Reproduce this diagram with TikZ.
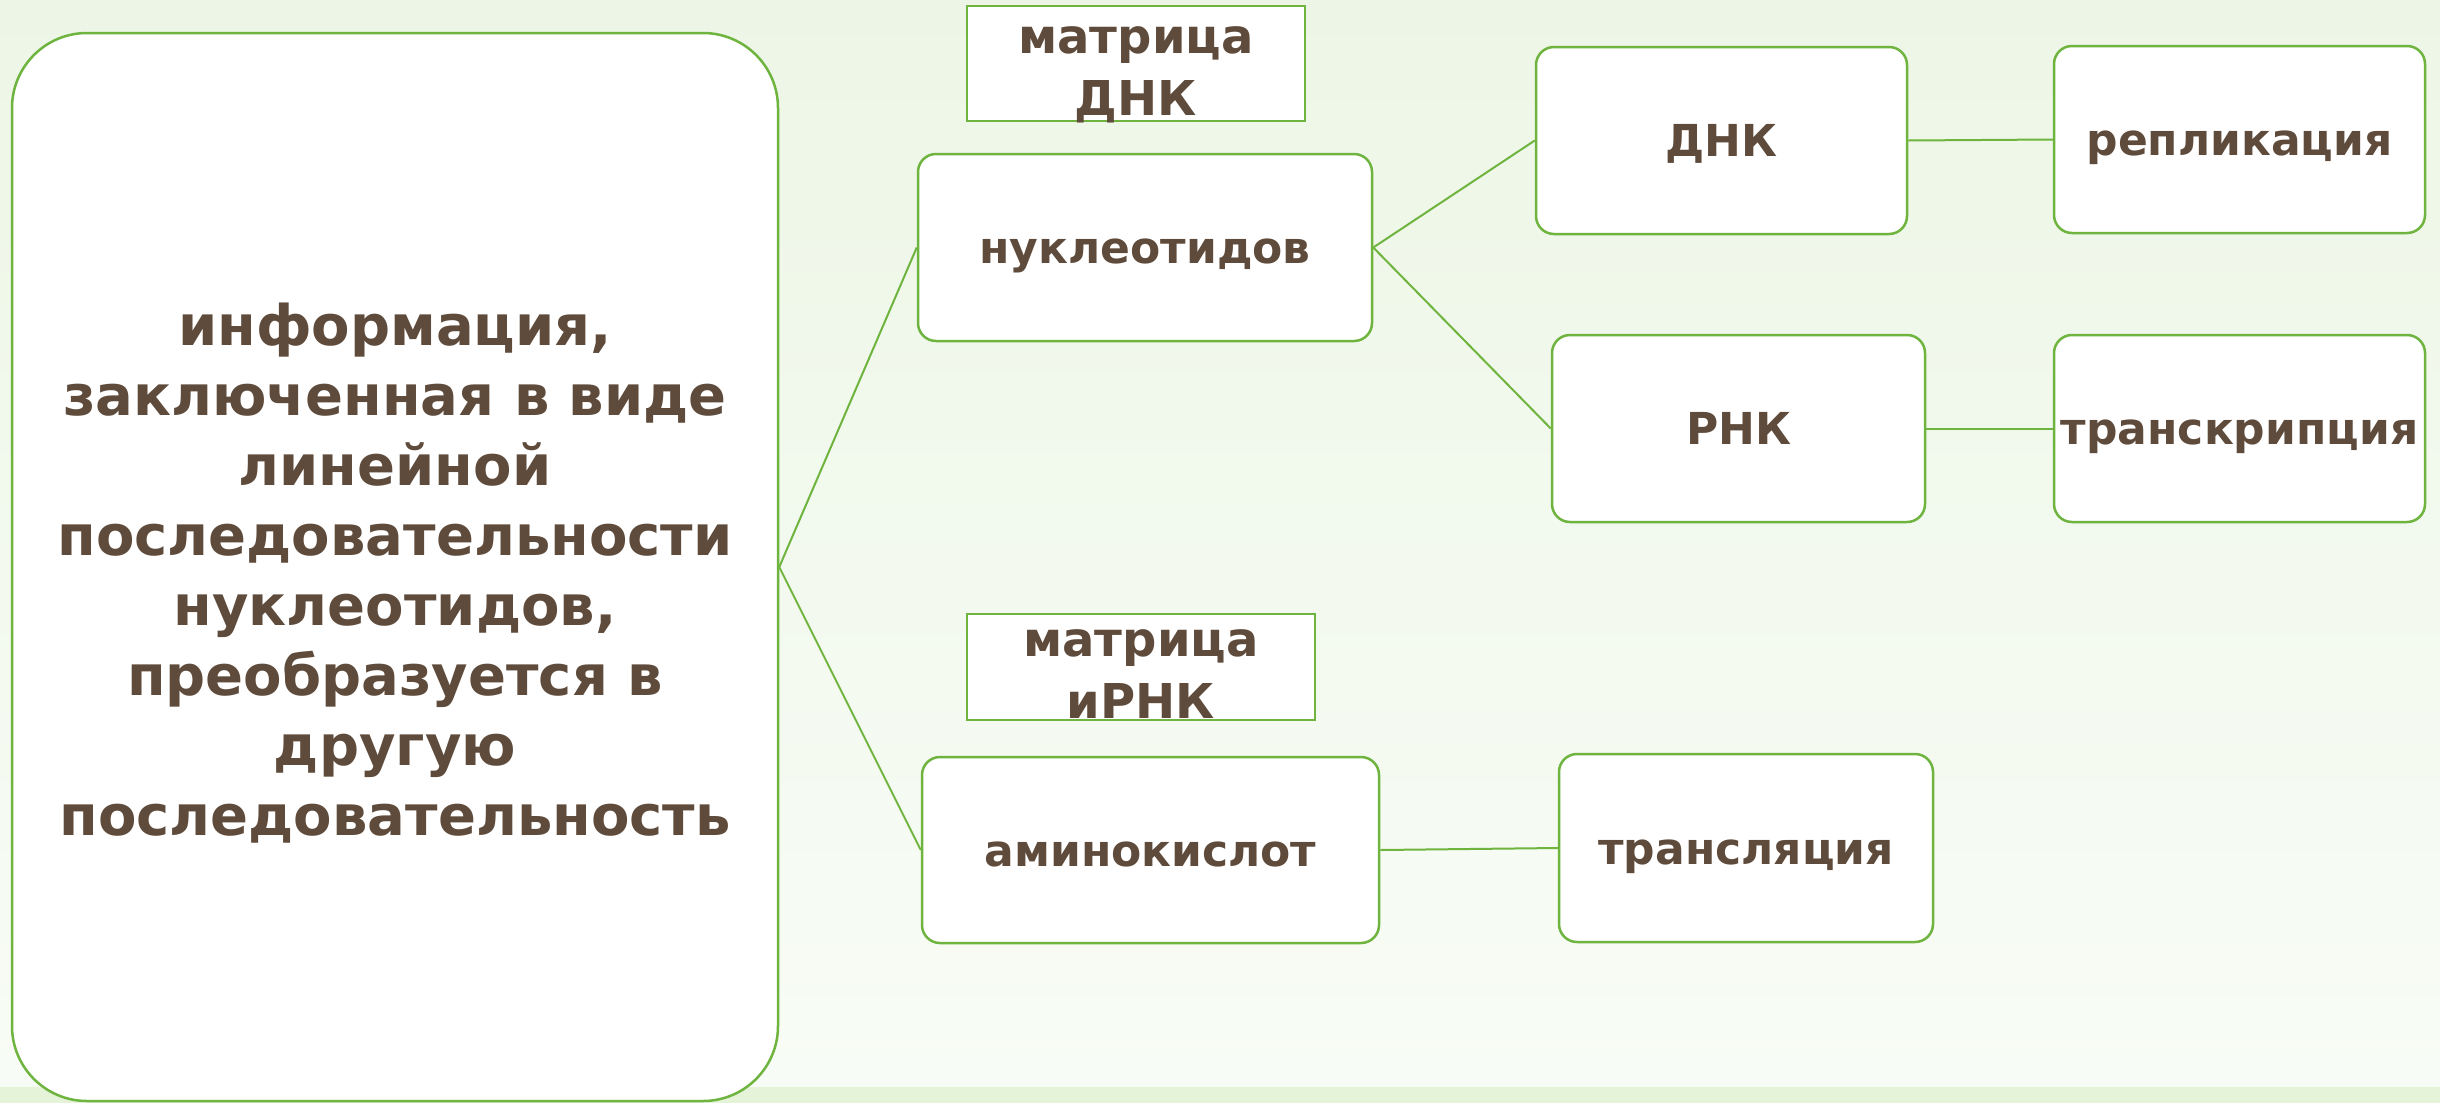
\documentclass[tikz,border=0pt]{standalone}
\usepackage{fontspec}
\setmainfont{DejaVu Sans}
\definecolor{tbrown}{HTML}{5F4B3B}
\definecolor{tgreen}{HTML}{6EB43F}
\definecolor{bgtop}{HTML}{EDF6E6}
\definecolor{bgbot}{HTML}{F8FCF6}
\definecolor{bgstrip}{HTML}{E5F3D9}
\begin{document}
\begin{tikzpicture}[x=1pt,y=-1pt,
  conn/.style={draw=tgreen, line width=2pt},
  card/.style={draw=tgreen, line width=2.5pt, fill=white, rounded corners=18pt,
    inner sep=0pt, font=\fontsize{44}{52}\selectfont\bfseries, text=tbrown,
    text height=42pt, text depth=10pt, align=center},
  tagbox/.style={draw=tgreen, line width=2.5pt, fill=white, inner sep=0pt},
  tagtext/.style={inner sep=0pt, font=\fontsize{48}{62}\selectfont\bfseries,
    text=tbrown, align=center},
  bigbox/.style={draw=tgreen, line width=2.5pt, fill=white, rounded corners=75pt,
    inner sep=0pt},
  bigtext/.style={inner sep=0pt, font=\fontsize{56}{70}\selectfont\bfseries,
    text=tbrown, align=center}
]
\useasboundingbox (0,0) rectangle (2440,1103);
\fill[top color=bgtop, bottom color=bgbot] (0,0) rectangle (2440,1087);
\fill[bgstrip] (0,1087) rectangle (2440,1103);

\node[bigbox, minimum width=766pt, minimum height=1068pt] (big) at (395,567) {};
\node[bigtext] (bigt) at (395,573) {информация,\\заключенная в виде\\линейной\\последовательности\\нуклеотидов,\\преобразуется в\\другую\\последовательность};

\node[tagbox, minimum width=338pt, minimum height=115pt] (tag1) at (1136,63.5) {};
\node[tagtext] (tag1t) at (1136,75) {матрица\\ДНК};
\node[tagbox, minimum width=348pt, minimum height=106pt] (tag2) at (1141,667) {};
\node[tagtext] (tag2t) at (1141,674) {матрица\\иРНК};

\node[card, minimum width=454pt, minimum height=187pt] (nuc) at (1145,247.5) {нуклеотидов};
\node[card, minimum width=371pt, minimum height=187pt] (dnk) at (1721.5,140.5) {ДНК};
\node[card, minimum width=371pt, minimum height=187pt] (repl) at (2239.5,139.5) {репликация};
\node[card, minimum width=373pt, minimum height=187pt] (rnk) at (1738.5,428.5) {РНК};
\node[card, minimum width=371pt, minimum height=187pt] (trsc) at (2239.5,428.5) {транскрипция};
\node[card, minimum width=457pt, minimum height=186pt] (amino) at (1150.5,850) {аминокислот};
\node[card, minimum width=374pt, minimum height=188pt] (trsl) at (1746,848) {трансляция};

\draw[conn] (big.east) -- (nuc.west);
\draw[conn] (big.east) -- (amino.west);
\draw[conn] (nuc.east) -- (dnk.west);
\draw[conn] (nuc.east) -- (rnk.west);
\draw[conn] (dnk.east) -- (repl.west);
\draw[conn] (rnk.east) -- (trsc.west);
\draw[conn] (amino.east) -- (trsl.west);
\end{tikzpicture}
\end{document}
